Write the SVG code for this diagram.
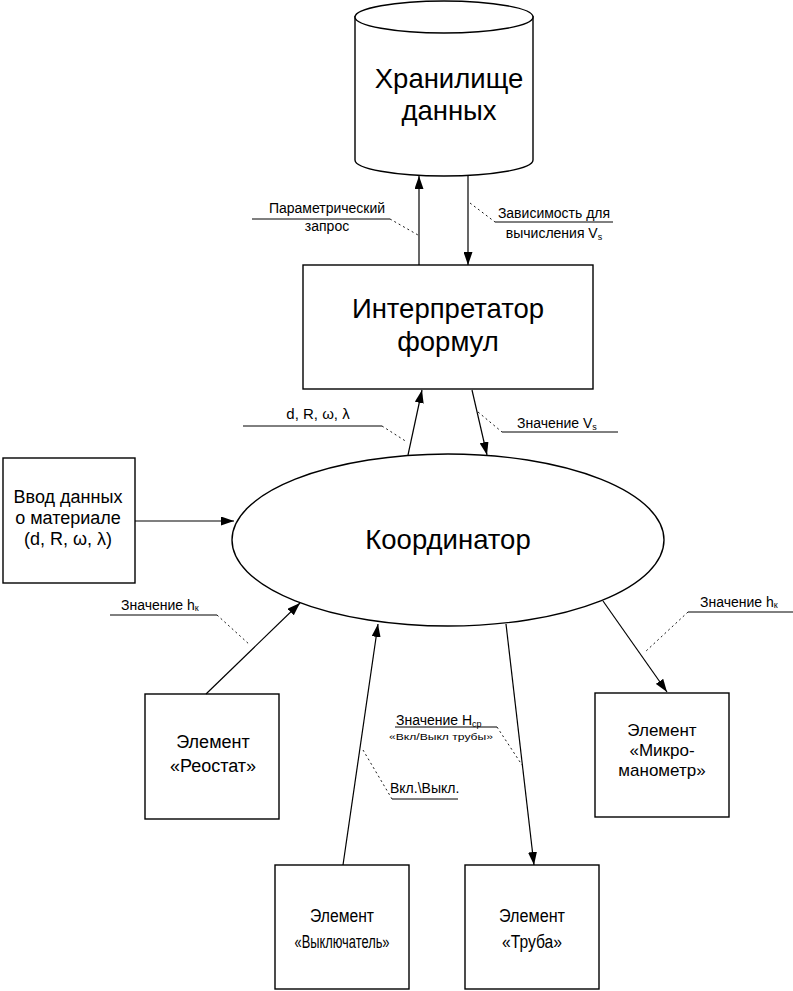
<svg xmlns="http://www.w3.org/2000/svg" width="793" height="991" viewBox="0 0 793 991">
<style>
.s{fill:none;stroke:#000;stroke-width:1.3}
.b{fill:#fff;stroke:#000;stroke-width:1.4}
.c{stroke:#000;stroke-width:1.2;fill:none}
.d{stroke:#000;stroke-width:0.9;fill:none;stroke-dasharray:2,3}
.u{stroke:#000;stroke-width:1;fill:none}
text{font-family:"Liberation Sans",Arial,sans-serif;fill:#000}
.big{font-size:27.5px;text-anchor:middle}
.mid{font-size:18px;text-anchor:middle}
.lab{font-size:14px}
.sm{font-size:9px}
</style>
<defs>
<marker id="ah" viewBox="0 0 13 9" refX="13" refY="4.5" markerWidth="13" markerHeight="9" markerUnits="userSpaceOnUse" orient="auto">
<path d="M0,0 L13,4.5 L0,9 z" fill="#000"/>
</marker>
</defs>
<rect width="793" height="991" fill="#fff"/>

<g id="storage">
<path class="b" d="M355,16 L355,160 A89,16 0 0 0 533,160 L533,16"/>
<ellipse class="b" cx="444" cy="17" rx="89" ry="16"/>
<text class="big" x="449" y="88">Хранилище</text>
<text class="big" x="449" y="120">данных</text>
</g>

<g id="interpreter">
<rect class="b" x="303" y="265" width="290" height="124"/>
<text class="big" x="448" y="318">Интерпретатор</text>
<text class="big" x="448" y="351">формул</text>
</g>

<g id="coordinator">
<ellipse class="b" cx="448" cy="540" rx="216" ry="86"/>
<text class="big" x="448" y="549">Координатор</text>
</g>

<g id="input">
<rect class="b" x="3" y="458" width="132" height="125"/>
<text class="mid" x="68" y="503">Ввод данных</text>
<text class="mid" x="68" y="524">о материале</text>
<text class="mid" x="68" y="545">(d, R, ω, λ)</text>
</g>

<g id="reostat">
<rect class="b" x="145" y="694" width="134" height="125"/>
<text class="mid" x="213" y="748">Элемент</text>
<text class="mid" x="213" y="772">«Реостат»</text>
</g>

<g id="switch">
<rect class="b" x="275" y="865" width="134" height="124"/>
<text class="mid" x="342" y="922" textLength="64" lengthAdjust="spacingAndGlyphs">Элемент</text>
<text class="mid" x="342" y="948" textLength="95" lengthAdjust="spacingAndGlyphs">«Выключатель»</text>
</g>

<g id="pipe">
<rect class="b" x="465" y="865" width="134" height="124"/>
<text class="mid" x="532" y="922" textLength="66" lengthAdjust="spacingAndGlyphs">Элемент</text>
<text class="mid" x="532" y="948" textLength="60" lengthAdjust="spacingAndGlyphs">«Труба»</text>
</g>

<g id="micromanometer">
<rect class="b" x="595" y="693" width="134" height="124"/>
<text class="mid" x="662" y="736" style="font-size:17px">Элемент</text>
<text class="mid" x="662" y="756" style="font-size:17px">«Микро-</text>
<text class="mid" x="662" y="776" style="font-size:17px">манометр»</text>
</g>

<g id="connectors">
<line class="c" x1="419" y1="265" x2="419" y2="176" marker-end="url(#ah)"/>
<line class="c" x1="468" y1="176" x2="468" y2="265" marker-end="url(#ah)"/>
<line class="c" x1="408" y1="455" x2="422" y2="390" marker-end="url(#ah)"/>
<line class="c" x1="472" y1="390" x2="487" y2="455" marker-end="url(#ah)"/>
<line class="c" x1="135" y1="521" x2="234" y2="521" marker-end="url(#ah)"/>
<line class="c" x1="206" y1="694" x2="300" y2="603" marker-end="url(#ah)"/>
<line class="c" x1="343" y1="865" x2="378" y2="624" marker-end="url(#ah)"/>
<line class="c" x1="506" y1="624" x2="534" y2="865" marker-end="url(#ah)"/>
<line class="c" x1="603" y1="601" x2="667" y2="692" marker-end="url(#ah)"/>
</g>

<g id="labels">
<line class="u" x1="252" y1="219" x2="390" y2="219"/>
<line class="d" x1="390" y1="219" x2="418" y2="235"/>
<text class="lab" x="327" y="213" text-anchor="middle">Параметрический</text>
<text class="lab" x="327" y="231" text-anchor="middle">запрос</text>

<line class="u" x1="495" y1="222" x2="613" y2="222"/>
<line class="d" x1="470" y1="203" x2="495" y2="222"/>
<text class="lab" x="554" y="218" text-anchor="middle">Зависимость для</text>
<text class="lab" x="554" y="238" text-anchor="middle">вычисления V<tspan class="sm" dy="2">s</tspan></text>

<line class="u" x1="243" y1="426" x2="382" y2="426"/>
<line class="d" x1="382" y1="426" x2="407" y2="442"/>
<text class="lab" x="318" y="419" text-anchor="middle" style="font-size:15px">d, R, ω, λ</text>

<line class="u" x1="502" y1="432" x2="618" y2="432"/>
<line class="d" x1="478" y1="412" x2="502" y2="432"/>
<text class="lab" x="517" y="428">Значение V<tspan class="sm" dy="2">s</tspan></text>

<line class="u" x1="110" y1="615" x2="217" y2="615"/>
<line class="d" x1="217" y1="615" x2="250" y2="645"/>
<text class="lab" x="121" y="610">Значение h<tspan class="sm" dy="1">к</tspan></text>

<line class="u" x1="688" y1="612" x2="793" y2="612"/>
<line class="d" x1="688" y1="612" x2="645" y2="652"/>
<text class="lab" x="700" y="607">Значение h<tspan class="sm" dy="1">к</tspan></text>

<line class="u" x1="395" y1="727" x2="497" y2="727"/>
<line class="d" x1="497" y1="727" x2="522" y2="765"/>
<text class="lab" x="396" y="725">Значение Н<tspan class="sm" dy="2">ср</tspan></text>
<text class="sm" x="441" y="740" text-anchor="middle" textLength="104" lengthAdjust="spacingAndGlyphs">«Вкл/Выкл трубы»</text>

<line class="u" x1="392" y1="799" x2="458" y2="799"/>
<line class="d" x1="363" y1="750" x2="392" y2="799"/>
<text class="lab" x="390" y="793">Вкл.\Выкл.</text>
</g>
</svg>
